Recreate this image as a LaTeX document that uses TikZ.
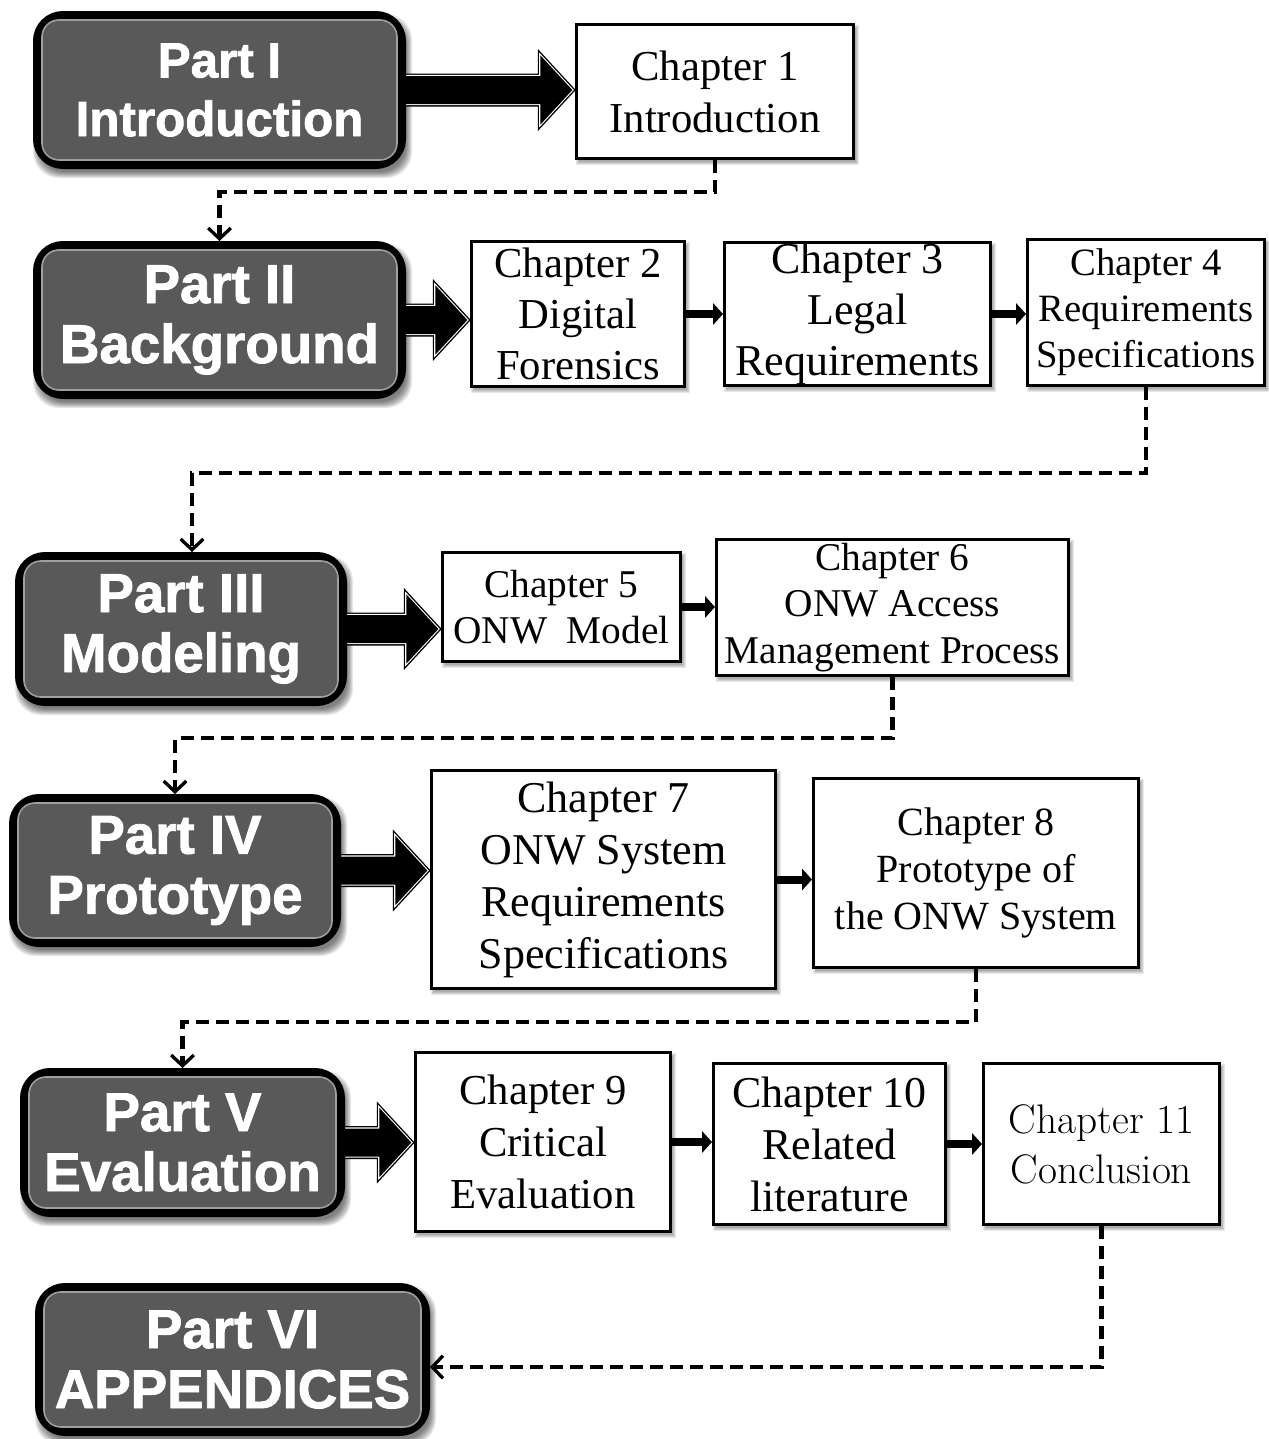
\documentclass[tikz,border=0pt]{standalone}
\usepackage{fontspec}
\newfontfamily\partfont{Liberation Sans}[BoldFeatures={FakeBold=1.6}]
\newfontfamily\chapfont{Liberation Serif}
\usetikzlibrary{arrows.meta,calc}

\newdimen\unitpx \unitpx=0.75pt
\pgfdeclarelayer{back}
\pgfdeclarelayer{shade}
\pgfdeclarelayer{under}
\pgfsetlayers{back,shade,under,main}
\definecolor{partfill}{HTML}{595959}

\tikzset{
  partbox/.style={rectangle, rounded corners=26\unitpx, draw=black,
    line width=8\unitpx, fill=partfill, text=white, align=center, inner sep=0pt,
    font=\partfont\bfseries\fontsize{41}{45}\selectfont},
  partring/.style={draw=gray!75, line width=1.6\unitpx, rounded corners=17\unitpx},
  chapbox/.style={rectangle, draw=black, line width=3\unitpx, fill=white,
    align=center, inner sep=0pt},
  chapfs/.style 2 args={font=\chapfont\fontsize{#1}{#2}\selectfont},
  flow/.style={draw=black, line width=4.5\unitpx, dash pattern=on 13\unitpx off 7\unitpx,
    -{Straight Barb[length=8pt,width=17pt,line width=2.5pt]}},
  smallarrow/.style={draw=black, line width=8\unitpx,
    -{Triangle[length=7.5pt,width=16pt]}}
}

% outline of a block arrow from the east side of one node to the west side of another
\newcommand\arrowpoly[1]{%
  \path[#1] let \p1=(\arrowfrom.east), \p2=(\arrowto.west) in
    (\x1-6pt,\y1+10.5pt) -- (\x2-26pt,\y1+10.5pt) -- (\x2-26pt,\y1+26pt) --
    (\x2-2pt,\y1) -- (\x2-26pt,\y1-26pt) -- (\x2-26pt,\y1-10.5pt) --
    (\x1-6pt,\y1-10.5pt) -- cycle;}
\newcommand\blockarrow[2]{%
  \def\arrowfrom{#1}\def\arrowto{#2}%
  \begin{pgfonlayer}{under}
    \arrowpoly{draw=black, line width=5\unitpx, line join=miter}
    \arrowpoly{draw=white, line width=2.2\unitpx, line join=miter}
    \arrowpoly{fill=black}
  \end{pgfonlayer}}

% soft shadow: stacked translucent copies of a node's outline
% #1 node, #2 x offset, #3 y offset, #4 corner radius, #5 steps
\newcommand\softshadow[5]{%
  \begin{pgfonlayer}{shade}
    \foreach \k in {0,...,#5}{
      \fill[black, opacity=0.09, rounded corners=#4\unitpx]
        ([shift={(#2-\k+#5/2,#3-\k+#5/2)}]#1.north west) rectangle
        ([shift={(#2+\k-#5/2,#3+\k-#5/2)}]#1.south east);}
  \end{pgfonlayer}}

\begin{document}
\begin{tikzpicture}[x=1\unitpx, y=-1\unitpx]
\begin{pgfonlayer}{back}
  \fill[white] (0,0) rectangle (1268,1439);
\end{pgfonlayer}
\useasboundingbox (0,0) rectangle (1268,1439);

% parts
\node[partbox, minimum width=365\unitpx, minimum height=150\unitpx,
      font=\partfont\bfseries\fontsize{37}{44}\selectfont]
  (p1) at (219.5,90) {Part I\\Introduction};
\node[partbox, minimum width=365\unitpx, minimum height=150\unitpx] (p2) at (219.5,320) {Part II\\Background};
\node[partbox, minimum width=324\unitpx, minimum height=146\unitpx] (p3) at (181,629) {Part III\\Modeling};
\node[partbox, minimum width=324\unitpx, minimum height=145\unitpx] (p4) at (175,870.5) {Part IV\\Prototype};
\node[partbox, minimum width=317\unitpx, minimum height=141\unitpx] (p5) at (182.5,1142.5) {Part V\\Evaluation};
\node[partbox, minimum width=387\unitpx, minimum height=145\unitpx] (p6) at (232.5,1359.5) {Part VI\\APPENDICES};
\foreach \n in {p1,p2,p3,p4,p5,p6}{
  \draw[partring] ([shift={(9,9)}]\n.north west) rectangle ([shift={(-9,-9)}]\n.south east);
  \softshadow{\n}{3}{6}{26}{6}}

% chapters
\node[chapbox, chapfs={32}{39}, minimum width=277\unitpx, minimum height=134\unitpx] (c1) at (715,91.5) {Chapter 1\\Introduction};
\node[chapbox, chapfs={32}{38}, minimum width=213\unitpx, minimum height=145\unitpx] (c2) at (578,314) {Chapter 2\\Digital\\Forensics};
\node[chapbox, chapfs={33}{38}, minimum width=266\unitpx, minimum height=143\unitpx] (c3) at (857.5,314) {Chapter 3\\Legal\\Requirements};
\node[chapbox, chapfs={29}{34.5}, minimum width=237\unitpx, minimum height=146\unitpx] (c4) at (1146,312.5) {Chapter 4\\Requirements\\Specifications};
\node[chapbox, chapfs={29.5}{35}, minimum width=238\unitpx, minimum height=109\unitpx] (c5) at (561.5,607) {Chapter 5\\ONW\enspace Model};
\node[chapbox, chapfs={29.5}{35}, minimum width=352\unitpx, minimum height=136\unitpx] (c6) at (892.5,607.5) {Chapter 6\\ONW Access\\Management Process};
\node[chapbox, chapfs={33}{39}, minimum width=344\unitpx, minimum height=218\unitpx] (c7) at (603.5,879.5) {Chapter 7\\ONW System\\Requirements\\Specifications};
\node[chapbox, chapfs={30}{35}, minimum width=325\unitpx, minimum height=189\unitpx] (c8) at (976,873) {Chapter 8\\Prototype of\\the ONW System};
\node[chapbox, chapfs={32}{39}, minimum width=255\unitpx, minimum height=179\unitpx] (c9) at (543,1142) {Chapter 9\\Critical\\Evaluation};
\node[chapbox, chapfs={33}{39}, minimum width=232\unitpx, minimum height=161\unitpx] (c10) at (829.5,1144) {Chapter 10\\Related\\literature};
\node[chapbox, font=\rmfamily\fontsize{31}{37.5}\selectfont, minimum width=236\unitpx, minimum height=161\unitpx] (c11) at (1101.5,1144) {Chapter 11\\Conclusion};
\foreach \n in {c1,c2,c3,c4,c5,c6,c7,c8,c9,c10,c11}{
  \softshadow{\n}{2}{3}{0}{3}}

% block arrows from each part to its first chapter
\blockarrow{p1}{c1}
\blockarrow{p2}{c2}
\blockarrow{p3}{c5}
\blockarrow{p4}{c7}
\blockarrow{p5}{c9}

% arrows between chapters of a part
\draw[smallarrow] (c2.east) -- (c2.east -| c3.west);
\draw[smallarrow] (c3.east) -- (c3.east -| c4.west);
\draw[smallarrow] (c5.east) -- (c5.east -| c6.west);
\draw[smallarrow] (c7.east) -- (c7.east -| c8.west);
\draw[smallarrow] (c9.east) -- (c9.east -| c10.west);
\draw[smallarrow] (c10.east) -- (c10.east -| c11.west);

% dashed links from the last chapter of a part to the next part
\draw[flow] (c1.south) -- ++(0,32) -| (p2.north);
\draw[flow] (c4.south) -- ++(0,86) -| ($(p3.north)+(11,0)$);
\draw[flow] (c6.south) -- ++(0,61) -| (p4.north);
\draw[flow] (c8.south) -- ++(0,53) -| (p5.north);
\draw[flow] (c11.south) |- ($(p6.east)+(0,7.5)$);
\end{tikzpicture}
\end{document}
